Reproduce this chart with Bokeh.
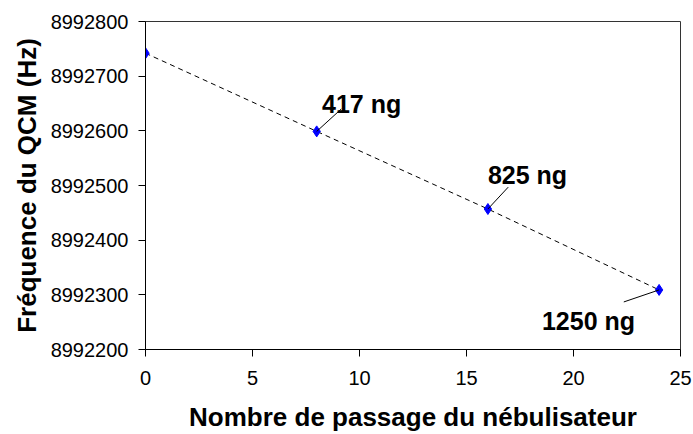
from bokeh.plotting import figure
from bokeh.models import FixedTicker, BasicTickFormatter
from bokeh.core.properties import value
from bokeh.embed import file_html
from bokeh.resources import INLINE

# Data
passages = [0, 8, 16, 24]
frequences = [8992742, 8992599, 8992457, 8992309]
annot_text = ["417 ng", "825 ng", "1250 ng"]
annot_x = [10.1, 17.85, 20.7]
annot_y = [8992650, 8992519, 8992253]
leader_x0 = [9.15, 16.95, 22.35]
leader_y0 = [8992640, 8992497, 8992287]
leader_x1 = [8, 16, 24]
leader_y1 = [8992599, 8992457, 8992309]
x_ticks = [0, 5, 10, 15, 20, 25]
y_ticks = [8992200, 8992300, 8992400, 8992500, 8992600, 8992700, 8992800]
x_title = "Nombre de passage du nébulisateur"
y_title = "Fréquence du QCM (Hz)"

FONT = "Liberation Sans"

p = figure(width=693, height=434, x_range=(0, 25), y_range=(8992200, 8992800),
           output_backend="svg", toolbar_location=None,
           min_border_left=145, min_border_right=13, min_border_top=21,
           min_border_bottom=82)

p.grid.visible = False
p.outline_line_color = "#333333"
p.outline_line_width = 1
p.background_fill_color = "white"
p.border_fill_color = "white"

for ax in (p.xaxis[0], p.yaxis[0]):
    ax.axis_line_color = "black"
    ax.major_tick_line_color = "black"
    ax.major_tick_in = 0
    ax.major_tick_out = 7
    ax.minor_tick_line_color = None
    ax.major_label_text_font = FONT
    ax.major_label_text_font_size = "20px"
    ax.major_label_text_color = "black"
    ax.major_label_standoff = 10
    ax.axis_label_text_font = FONT
    ax.axis_label_text_font_size = "26px"
    ax.axis_label_text_font_style = "bold"
    ax.axis_label_text_color = "black"

p.xaxis.ticker = FixedTicker(ticks=x_ticks)
p.yaxis.ticker = FixedTicker(ticks=y_ticks)
p.yaxis.formatter = BasicTickFormatter(use_scientific=False)
p.xaxis.major_label_standoff = 14
p.xaxis.major_label_text_line_height = 0.8
p.xaxis.axis_label_text_line_height = 0.8

p.xaxis.axis_label = x_title
p.xaxis.axis_label_standoff = 14
p.yaxis.axis_label = y_title
p.yaxis.axis_label_standoff = 6

p.line(passages, frequences, line_color="black", line_width=1, line_dash="5 4")
p.scatter(passages, frequences, marker="diamond", size=11,
          fill_color="#0000FF", line_color="#0000FF")

p.segment(x0=leader_x0, y0=leader_y0, x1=leader_x1, y1=leader_y1,
          line_color="black", line_width=1)

p.text(x=annot_x, y=annot_y, text=annot_text, text_align="center",
       text_baseline="alphabetic", text_font=value(FONT),
       text_font_size="25px", text_font_style="bold", text_color="black")

open("out.html", "w").write(file_html(p, INLINE))
